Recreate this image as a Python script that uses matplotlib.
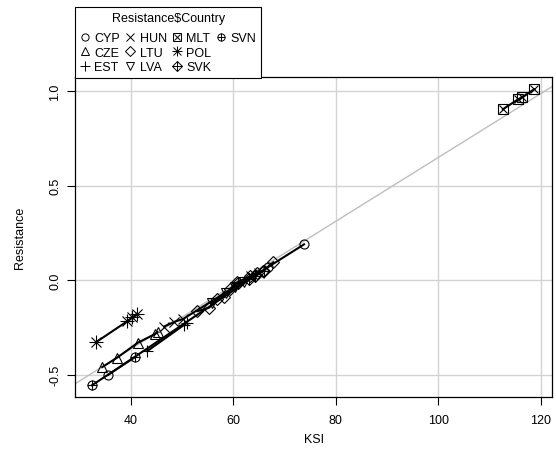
import numpy as np
import matplotlib.pyplot as plt
from matplotlib.lines import Line2D
from matplotlib.legend_handler import HandlerTuple

plt.rcParams['font.family'] = ['Liberation Sans', 'DejaVu Sans']

# KSI / Resistance per country
countries = ['CYP', 'CZE', 'EST', 'HUN', 'LTU', 'LVA', 'MLT', 'POL', 'SVK', 'SVN']
ksi = {
    'CYP': [35.6, 66.8, 73.8],
    'CZE': [34.4, 37.3, 41.4, 44.7, 45.2],
    'EST': [43.2, 50.3, 50.9],
    'HUN': [46.5, 48.5, 50.2, 63.5, 65.0],
    'LTU': [53.0, 55.3, 56.8, 58.2, 59.4, 60.8, 63.3, 64.7, 65.8, 67.8],
    'LVA': [55.8, 58.6, 60.3, 62.0],
    'MLT': [112.6, 115.6, 116.4, 118.7],
    'POL': [33.2, 39.3, 40.3, 41.2],
    'SVK': [61.0, 63.0, 64.2, 66.0],
    'SVN': [32.4, 40.8],
}
resistance = {
    'CYP': [-0.50, 0.07, 0.19],
    'CZE': [-0.46, -0.41, -0.33, -0.285, -0.275],
    'EST': [-0.375, -0.238, -0.226],
    'HUN': [-0.245, -0.22, -0.205, 0.02, 0.04],
    'LTU': [-0.164, -0.145, -0.10, -0.09, -0.045, -0.01, 0.02, 0.04, 0.05, 0.095],
    'LVA': [-0.12, -0.07, -0.035, -0.01],
    'MLT': [0.905, 0.958, 0.968, 1.011],
    'POL': [-0.328, -0.217, -0.196, -0.18],
    'SVK': [-0.015, 0.005, 0.025, 0.05],
    'SVN': [-0.556, -0.407],
}
# overall fit line (abline)
fit_intercept = -1.040
fit_slope = 0.0169

xticks = [40, 60, 80, 100, 120]
yticks = [-0.5, 0.0, 0.5, 1.0]

# R pch symbols built from matplotlib markers (list of (marker, size))
symbols = {
    'CYP': [('o', 6.5)],
    'CZE': [('^', 7.5)],
    'EST': [('+', 9)],
    'HUN': [('x', 7)],
    'LTU': [('D', 6.5)],
    'LVA': [('v', 7.5)],
    'MLT': [('s', 7), ('x', 6)],
    'POL': [('+', 9.5), ('x', 7.5)],
    'SVK': [('D', 6.5), ('+', 9)],
    'SVN': [('o', 6.5), ('+', 6.5)],
}

fs = 9

fig = plt.figure(figsize=(5.56, 4.6), dpi=100)
ax = fig.add_axes([0.1349, 0.1348, 0.858, 0.6957])
ax.set_xlim(29.1, 122.2)
ax.set_ylim(-0.618, 1.076)

for v in xticks:
    ax.axvline(v, color='#d3d3d3', lw=1, zorder=0)
for v in yticks:
    ax.axhline(v, color='#d3d3d3', lw=1, zorder=0)

xx = np.array(ax.get_xlim())
ax.plot(xx, fit_intercept + fit_slope * xx, color='#bebebe', lw=1, zorder=1)

for c in countries:
    ax.plot(ksi[c], resistance[c], color='black', lw=1.5, zorder=2)
    for m, s in symbols[c]:
        ax.plot(ksi[c], resistance[c], ls='none', marker=m, ms=s,
                mfc='none', mec='black', mew=0.8, zorder=3)

ax.set_xticks(xticks)
ax.set_yticks(yticks)
ax.set_yticklabels(['%.1f' % v for v in yticks], rotation=90, va='center')
ax.tick_params(direction='out', length=6, width=0.8, labelsize=fs)
ax.tick_params(axis='x', pad=6)
ax.tick_params(axis='y', pad=4)
for sp in ax.spines.values():
    sp.set_linewidth(0.9)
ax.set_xlabel('KSI', fontsize=fs, labelpad=5)
ax.set_ylabel('Resistance', fontsize=fs, labelpad=17)

handles = []
for c in countries:
    parts = tuple(Line2D([], [], ls='none', marker=m, ms=s * 0.8, mfc='none',
                         mec='black', mew=0.7) for m, s in symbols[c])
    handles.append(parts)
labels = list(countries)
# two empty slots so the columns fill 3,3,3,1 as in R
blank = Line2D([], [], ls='none')
handles += [(blank,), (blank,)]
labels += ['', '']
leg = ax.legend(handles, labels, ncol=4, title='Resistance$Country',
                loc='upper left', bbox_to_anchor=(0, 1.219), borderaxespad=0,
                handler_map={tuple: HandlerTuple(ndivide=1, pad=0)},
                fontsize=fs, title_fontsize=fs, handlelength=0.8,
                handletextpad=0.35, columnspacing=0.4, labelspacing=0.2,
                borderpad=0.4, fancybox=False, edgecolor='black', framealpha=1)
leg._legend_box.sep = 6
leg.get_frame().set_linewidth(0.8)
leg.set_zorder(5)

fig.savefig('out.png', dpi=100)
